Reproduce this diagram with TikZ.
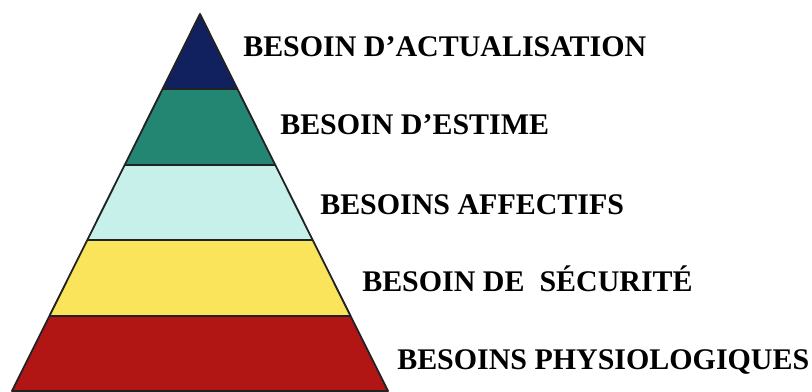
\documentclass[tikz,border=0pt]{standalone}
\usepackage{fontspec}
\setmainfont{Liberation Serif}
\usepackage{tikz}
\usetikzlibrary{calc}

\definecolor{lvlblue}{HTML}{11205F}
\definecolor{lvlteal}{HTML}{238673}
\definecolor{lvlcyan}{HTML}{C8F0EA}
\definecolor{lvlyellow}{HTML}{FAE45C}
\definecolor{lvlred}{HTML}{B11514}
\definecolor{edgegray}{HTML}{222222}

\tikzset{
  besoin/.style={anchor=base west, inner sep=0pt, text=black,
    font=\bfseries\fontsize{21.3}{23}\selectfont},
  bord/.style={draw=edgegray, line width=1.3pt, line join=round}
}

\begin{document}
\begin{tikzpicture}[x=0.025cm, y=-0.025cm]
    \useasboundingbox (0,0) rectangle (812,392);
    \coordinate (T) at (200,14);
    \coordinate (L) at (12,391);
    \coordinate (R) at (388,391);
    % layers, from the top down
    \foreach \c [count=\i from 0] in {lvlblue,lvlteal,lvlcyan,lvlyellow,lvlred} {
        \pgfmathsetmacro\a{\i/5}
        \pgfmathsetmacro\b{(\i+1)/5}
        \fill[\c] ($(T)!\a!(L)$) -- ($(T)!\b!(L)$) -- ($(T)!\b!(R)$) -- ($(T)!\a!(R)$) -- cycle;
    }
    \foreach \i in {1,2,3,4} {
        \pgfmathsetmacro\a{\i/5}
        \draw[bord] ($(T)!\a!(L)$) -- ($(T)!\a!(R)$);
    }
    \draw[bord] (T) -- (L) -- (R) -- cycle;
    \node[besoin] (actu) at (243,57) {BESOIN D’ACTUALISATION};
    \node[besoin] (estime) at (280,135) {BESOIN D’ESTIME};
    \node[besoin] (affect) at (320,215) {BESOINS AFFECTIFS};
    \node[besoin] (secu) at (362,292) {BESOIN DE\ \ SÉCURITÉ};
    \node[besoin] (physio) at (397,370) {BESOINS PHYSIOLOGIQUES};
\end{tikzpicture}
\end{document}
